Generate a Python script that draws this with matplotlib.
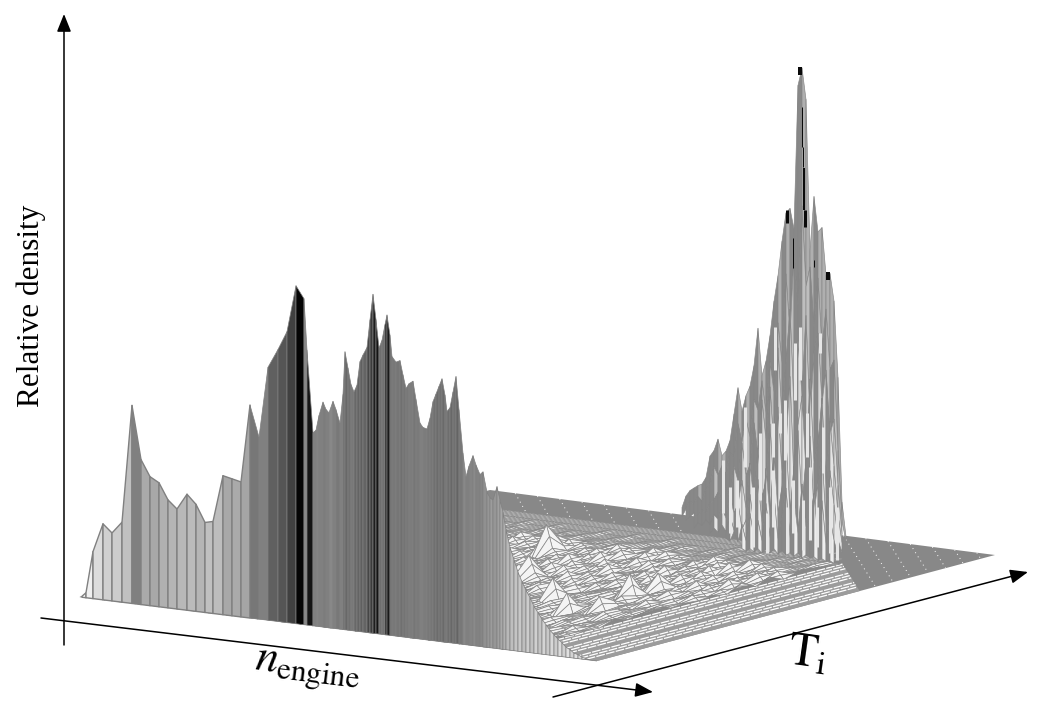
import numpy as np
import matplotlib
matplotlib.use('Agg')
import matplotlib.pyplot as plt
from matplotlib.collections import PolyCollection

plt.rcParams['font.family'] = ['Liberation Serif', 'DejaVu Serif']
plt.rcParams['mathtext.fontset'] = 'stix'

# Front wall of the surface: engine speed position, density, shade of each strip
wall_n = [82, 86, 93, 103, 112, 122, 132, 141, 150, 159, 168, 177, 187, 196, 205, 213, 223, 232, 241, 250, 259, 268, 278, 287, 296, 304, 307, 313,
          316, 319, 323, 326, 329, 333, 336, 340, 343, 345, 348, 351, 354, 357, 360, 363, 367, 370, 373, 376,
          379, 382, 385, 387, 390, 392, 396, 400, 403, 406, 409, 413, 416, 420, 423, 427, 430, 433, 436, 439,
          442, 445, 447, 450, 453, 456, 459, 463, 466, 469, 473, 476, 480, 483, 487, 490, 493, 497, 500, 503,
          506, 510, 514, 518, 522, 526, 530, 534, 538, 542, 546, 550, 554, 558, 562, 566, 570, 574, 578, 582, 586, 592, 597]
wall_density = [1, 5, 47, 76, 68, 80, 198, 145, 129, 124, 108, 100, 116, 107, 90, 92, 139, 137, 135, 213, 182, 253, 272, 291, 338, 326, 275, 193,
                196, 211, 225, 218, 215, 227, 219, 206, 235, 278, 262, 246, 239, 246, 270, 277, 285, 313, 339, 314,
                286, 294, 310, 320, 300, 279, 274, 276, 262, 249, 254, 257, 239, 216, 212, 211, 222, 239, 247, 255,
                263, 247, 231, 235, 251, 267, 234, 191, 168, 179, 190, 181, 172, 175, 155, 150, 148, 162, 149, 137,
                120, 103, 91, 79, 70, 62, 55, 47, 41, 35, 30, 25, 21, 17, 14, 10, 8, 5, 4, 2, 1, 0, 0]
wall_shade = [244, 240, 220, 208, 204, 192, 128, 170, 168, 176, 181, 184, 187, 181, 192, 189, 168, 170, 165, 119, 128, 96, 85, 64, 5, 136, 21,
              128, 132, 128, 124, 128, 136, 128, 120, 128, 110, 104, 112, 120, 104, 100, 96, 100, 70, 60, 30,
              20, 110, 112, 30, 25, 110, 120, 118, 112, 116, 120, 124, 118, 122, 128, 124, 120, 118, 112, 108,
              112, 106, 116, 110, 104, 112, 100, 120, 136, 128, 132, 138, 130, 134, 144, 150, 156, 150, 160, 168,
              176, 184, 190, 196, 200, 190, 204, 192, 208, 196, 212, 200, 216, 204, 220, 208, 224, 212, 226, 216, 228, 222, 232]

# Tall ridge near the far edge, rows run from back to front
ridge_n = list(range(682, 850, 4))
ridge_rows = [
    [8, 20, 26, 29, 32, 34, 41, 63, 69, 81, 65, 70, 81, 108, 135, 112, 128, 138, 159, 197, 150, 165, 191, 226, 252, 287, 316, 321, 301, 445, 463, 432, 281, 336, 301, 306, 259, 261, 234, 158, 34, 0],
    [4, 12, 20, 18, 26, 22, 34, 40, 58, 50, 60, 52, 74, 70, 104, 86, 110, 92, 130, 120, 150, 118, 170, 140, 210, 170, 260, 200, 280, 230, 330, 250, 270, 210, 260, 190, 230, 170, 180, 90, 20, 0],
    [2, 6, 10, 14, 12, 18, 16, 26, 30, 38, 30, 44, 34, 66, 52, 90, 58, 70, 112, 80, 136, 96, 150, 88, 190, 120, 176, 230, 130, 200, 146, 226, 120, 190, 210, 140, 174, 110, 126, 60, 12, 0],
    [0, 3, 6, 4, 10, 8, 14, 10, 20, 16, 28, 18, 40, 24, 34, 58, 30, 76, 36, 92, 44, 60, 118, 48, 136, 70, 96, 168, 62, 120, 150, 74, 168, 84, 104, 150, 60, 128, 84, 36, 8, 0],
    [0, 1, 3, 2, 6, 4, 8, 6, 12, 8, 16, 10, 26, 12, 40, 14, 24, 50, 18, 66, 22, 78, 30, 96, 34, 62, 110, 36, 84, 120, 44, 92, 116, 40, 70, 100, 30, 84, 50, 16, 4, 0],
    [0, 0, 1, 2, 2, 4, 3, 5, 4, 7, 5, 8, 6, 16, 6, 24, 8, 36, 12, 30, 10, 48, 14, 58, 12, 36, 66, 16, 56, 22, 72, 28, 40, 64, 18, 58, 14, 42, 20, 6, 2, 0],
    [0, 0, 0, 1, 0, 2, 1, 2, 1, 3, 2, 3, 2, 4, 2, 5, 3, 6, 3, 7, 3, 8, 4, 9, 4, 8, 4, 7, 4, 8, 3, 7, 4, 6, 3, 5, 3, 4, 2, 2, 0, 0],
]
ridge_light = [175, 190, 215, 228, 232, 238]

# Black bits on the ridge: position, top, bottom, width
dark_n = [800, 802, 803, 804, 805, 787, 793, 814, 828]
dark_top = [67, 107, 147, 168, 210, 210, 238, 260, 272]
dark_bottom = [75, 147, 167, 210, 227, 223, 268, 267, 280]
dark_width = [4, 1, 1, 2, 3, 3, 1, 1, 4]

# Light streaks on the lower half of the ridge
streak_n = [775, 795, 785, 807, 745, 760, 773, 810, 830, 823, 787, 753, 800, 820, 737, 723, 837, 793, 780, 773, 803, 767, 817, 730]
streak_top = [327, 343, 400, 413, 407, 433, 470, 467, 487, 427, 507, 487, 327, 333, 480, 460, 507, 480, 413, 423, 500, 513, 507, 487]
streak_bottom = [370, 400, 460, 457, 467, 500, 527, 540, 553, 473, 553, 547, 380, 353, 527, 513, 560, 533, 433, 457, 550, 553, 547, 533]

# Low lumps between wall and ridge, one digit per mesh vertex
lump_rows = [
    "010203001020110302001002030100201003020100302010020301002010030201003021",
    "102010302001203010020103020010203001020301002010300201030020102003010201",
    "003021002013002100302010230010302001204001020300102030201001302001020300",
    "210030102400103002010301020040102003010020302010200301020103002040100302",
    "001204010030201002301002010302001040203001020103000201040300201001030020",
    "300102003040010203100200304010030201002050102030010402003010200301020401",
    "012003110502201030204101320301040120103105020210304120100312010403202010",
    "200401232120105130201304122030105102031204021103250201104131201220300124",
    "131202151104312031601202041103215120104203162201103251102140230102152021",
    "214131210251203240120612031220415011230216012405131120214120513201142203",
    "102251403211260103202151401261203110514120203161402110513220104162302215",
    "311412162103251204211603120511241306120215130412161105220304112602150321",
    "141305211214062301352104172103351204160213072214150316012204171305210412",
    "201162305120417011306251204110713020615130207141206130511241702130601251",
    "151302172104161203281105130714121601250813140217012613150204181206231502",
    "316011502141703161201281503011704161215031807110412160513170212041816130",
    "120715141301261812150307112604181205131601271405181213061204170512030816",
    "511030816120417150113061804121705110316180412071513011608141207150316210",
    "141608110315170214160113080512141706110315081204170613010514180216130715",
    "213050712160411181305120617140113081205160417011813150216041708110315160",
    "160114131705120816141103170512081604110317151208160411130715120816140113",
    "101210110103101110201100011012100110101310011100210011100110120100011013",
    "011000100100010020010001000100100001000011000102000100100100001000100201",
    "000100100000010000100001000000010000100000100000000001000010000010000100",
    "000000000000000000000000000000000000000000000000000000000000000000000000",
    "000000000000000000000000000000000000000000000000000000000000000000000000",
]
peak_n = [.408, .514, .642, .721, .739, .733, .754]
peak_t = [.637, .466, .356, .291, .442, .495, .330]
peak_h = [30, 25, 22, 20, 25, 18, 15]

axis_color = 'black'
mesh_color = '#888888'
mesh_n_end = .84
mesh_t_end = .886


def floor(u, v):
    # bilinear map of the floor corners onto the figure
    x = (1-u)*(1-v)*80 + u*(1-v)*597 + u*v*995 + (1-u)*v*490
    y = (1-u)*(1-v)*597 + u*(1-v)*661 + u*v*555 + (1-u)*v*490
    return x, y


fig = plt.figure(figsize=(10.4, 7.05), dpi=100)
ax = fig.add_axes([0, 0, 1, 1])
ax.set_xlim(0, 1040)
ax.set_ylim(705, 0)
ax.axis('off')

# floor, solid grey where the mesh is too dense to resolve
ax.fill(*zip(*[floor(0, 0), floor(1, 0), floor(1, 1), floor(0, 1)]), color=mesh_color, lw=0, zorder=1)
for c in list(np.arange(1.70, 1.98, .044)) + list(np.arange(1.05, 1.40, .044)):
    u0 = c-1
    u1 = 1 if c > 1.5 else u0+.114
    ax.plot(*floor(np.array([u0, u1]), c-np.array([u0, u1])), color='white', lw=.7, ls=(0, (1, 4)), zorder=1.5)

# stripes along T next to the front corner
v_top = .82
ax.fill(*zip(*[floor(mesh_n_end, 0), floor(1, 0), floor(1, .66), floor(mesh_n_end, v_top)]), color='#9c9c9c', lw=0, zorder=2)
for i, u in enumerate(np.arange(mesh_n_end+.002, 1, .0135)):
    if i % 4 == 3:
        continue
    ax.plot(*floor(np.array([u, u]), np.array([.004, min(1.66-u, v_top)])), color='white', lw=.9, ls=(0, (7, 1)), zorder=2.1)

# lumpy mesh, each cell split along n so the wires sit as close as in the original
n_rows, n_cols = len(lump_rows), len(lump_rows[0])
mesh_h = np.array([[int(d)*1.2 for d in row] for row in lump_rows])
for u, v, h in zip(peak_n, peak_t, peak_h):
    mesh_h[round(v/mesh_t_end*(n_rows-1)), round(u/mesh_n_end*(n_cols-1))] = h
mesh_polys = []
for r in range(n_rows-2, -1, -1):
    for c in range(n_cols-1):
        if (c/(n_cols-1))*mesh_n_end + (r/(n_rows-1))*mesh_t_end > 1.62:
            continue
        for k in range(2):
            pts = []
            for s, rr in [(k/2, r), ((k+1)/2, r), ((k+1)/2, r+1), (k/2, r+1)]:
                x, y = floor((c+s)/(n_cols-1)*mesh_n_end, rr/(n_rows-1)*mesh_t_end)
                pts.append((x, y-(1-s)*mesh_h[rr, c]-s*mesh_h[rr, c+1]))
            mesh_polys.append(pts)
ax.add_collection(PolyCollection(mesh_polys, facecolors='#f4f4f4', edgecolors=mesh_color, linewidths=.5, zorder=3))

# ridge, sheared so that a column keeps its place across rows
ridge_polys, ridge_faces = [], []
heights = np.array(ridge_rows, dtype=float)


def ridge_point(row, col):
    v = .995-.032*row
    left = 80+410*v
    right = 597+398*v
    x, y = floor((ridge_n[col]-left)/(right-left), v)
    return x, y-heights[row, col]


for r in range(heights.shape[0]-1):
    for j in range(heights.shape[1]-1):
        cell = [heights[r, j], heights[r, j+1], heights[r+1, j+1], heights[r+1, j]]
        if np.mean(cell) < 10:
            continue
        slope = cell[1]+cell[2]-cell[0]-cell[3]
        ridge_polys.append([ridge_point(r, j), ridge_point(r, j+1), ridge_point(r+1, j+1), ridge_point(r+1, j)])
        level = 136 if slope > 0 else ridge_light[r]
        ridge_faces.append(str(level/255))
ax.add_collection(PolyCollection(ridge_polys, facecolors=ridge_faces, edgecolors='#858585', linewidths=.45, zorder=4))
ax.vlines(streak_n, streak_top, streak_bottom, color='#e6e6e6', lw=2.2, zorder=4.2)
for n, top, bottom, w in zip(dark_n, dark_top, dark_bottom, dark_width):
    ax.plot([n, n], [top, bottom], color='#0a0a0a', lw=w*.72, solid_capstyle='butt', zorder=4.5)

# front wall
base = [597+.1238*(n-80) for n in wall_n]
wall_polys = []
for i in range(len(wall_n)-1):
    wall_polys.append([(wall_n[i], base[i]), (wall_n[i], base[i]-wall_density[i]),
                       (wall_n[i+1], base[i+1]-wall_density[i+1]), (wall_n[i+1], base[i+1])])
wall_faces = [str(s/255) for s in wall_shade]
wall_widths = [1.0 if n < 250 else .5 for n in wall_n[:-1]]
ax.add_collection(PolyCollection(wall_polys, facecolors=wall_faces, edgecolors='#808080', linewidths=wall_widths, zorder=5))

# hand drawn axes
arrow = dict(arrowstyle='-|>,head_length=.9,head_width=.36', color=axis_color, lw=1.1, shrinkA=0, shrinkB=0, mutation_scale=12)
ax.annotate('', xy=(64, 14), xytext=(64, 645), arrowprops=arrow, zorder=6)
ax.annotate('', xy=(653, 692), xytext=(41, 618), arrowprops=arrow, zorder=6)
ax.annotate('', xy=(1028, 572), xytext=(553, 697), arrowprops=arrow, zorder=6)

ax.text(31, 306, 'Relative density', rotation=90, ha='center', va='center', fontsize=22.5, color='black')
ax.text(307, 672, r'$n_{\mathrm{engine}}$', rotation=-7, ha='center', va='center', fontsize=32, color='black')
ax.text(808, 655, r'$\mathrm{T}_{\mathrm{i}}$', rotation=-8, ha='center', va='center', fontsize=34, color='black')

fig.savefig('out.png', dpi=100)
